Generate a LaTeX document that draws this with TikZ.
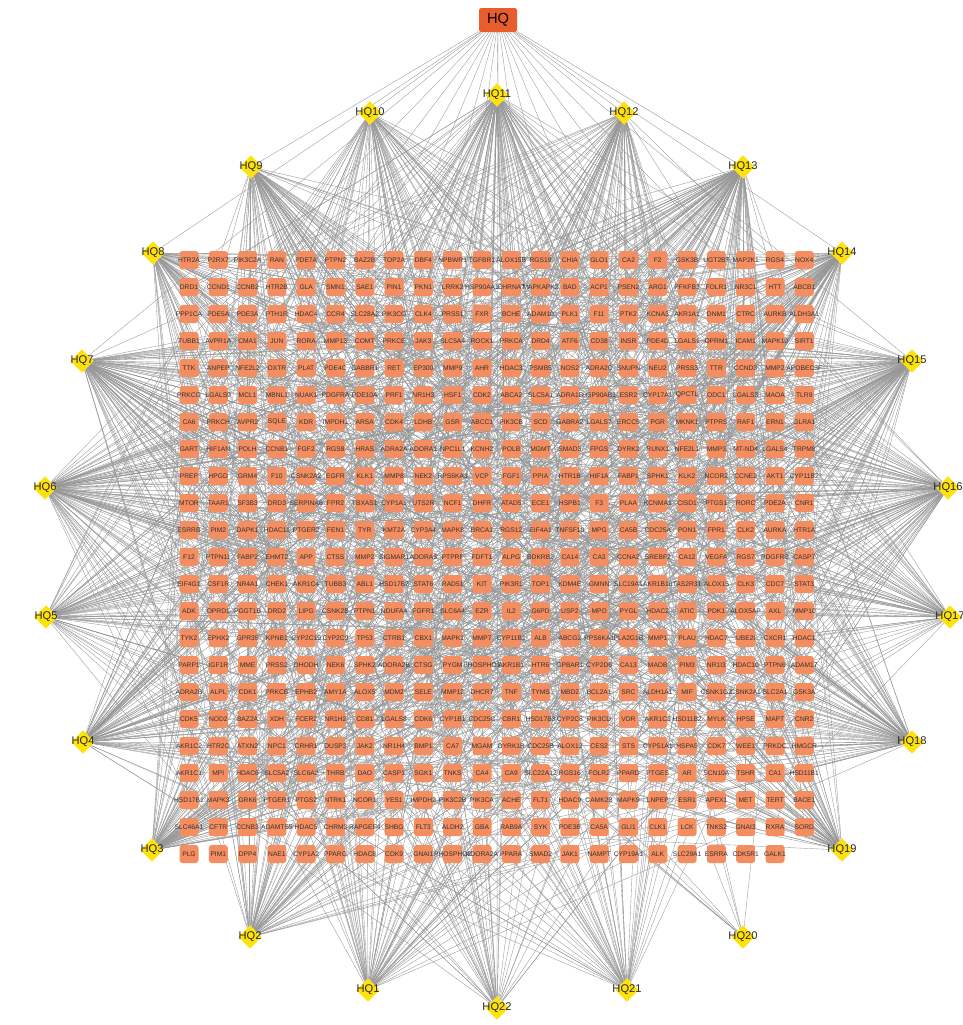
\documentclass[tikz,border=0pt]{standalone}
\usepackage{fontspec}
\setmainfont{Liberation Sans}
\usetikzlibrary{shapes.geometric, backgrounds}

\definecolor{tgtfill}{RGB}{244,141,96}
\definecolor{hqyellow}{RGB}{255,226,10}
\definecolor{rootfill}{RGB}{233,92,44}
\definecolor{linkgray}{RGB}{150,150,150}

\tikzset{
  tgt/.style={rectangle, rounded corners=2.5pt, fill=tgtfill, minimum width=0.57cm, minimum height=0.54cm, inner sep=0pt},
  tgtlbl/.style={font=\fontsize{5.7}{6}\selectfont, text=black!80, inner sep=0pt},
  hqnode/.style={diamond, fill=hqyellow, minimum width=0.7cm, minimum height=0.7cm, inner sep=0pt},
  hqlbl/.style={font=\fontsize{9.5}{10}\selectfont, text=black!85, inner sep=0pt},
  rootnode/.style={rectangle, rounded corners=2pt, fill=rootfill, minimum width=1.14cm, minimum height=0.72cm, inner sep=0pt, font=\fontsize{12.5}{13}\selectfont},
  hqlink/.style={draw=linkgray, line width=0.3pt}
}

\begin{document}
\begin{tikzpicture}[x=0.03cm, y=-0.03cm]
\useasboundingbox (0,0) rectangle (963,1025);

% compound
\node[rootnode] (hq) at (498,20) {HQ};

% ingredients
\foreach \k/\x/\y in {1/368/990, 2/250/937, 3/152/850, 4/83/742, 5/46/617, 6/45/488,
  7/82/361, 8/153/253, 9/251/167, 10/370/113, 11/497/95, 12/624/113, 13/743/167,
  14/842/253, 15/912/361, 16/948/488, 17/950/617, 18/912/742, 19/842/850,
  20/743/937, 21/627/990, 22/497/1008} {
  \node[hqnode, label={[hqlbl]center:HQ\k}] (hq\k) at (\x,\y) {};
}

% targets
\foreach \row [count=\r from 0] in {
  {HTR2A,P2RX7,PIK3C2A,RAN,PDE7A,PTPN2,BAZ2B,TOP2A,DBF4,NPBWR1,TGFBR1,ALOX15B,RGS19,CHIA,GLO1,CA2,F2,GSK3B,UGT2B7,MAP2K1,RGS4,NOX4},
  {DRD1,CCND1,CCNB2,HTR2B,GLA,SMN1,SAE1,PIN1,PKN1,LRRK2,HSP90AA1,CHRNA7,MAPKAPK2,BAD,ACP1,PSEN2,ARG1,PFKFB3,FOLR1,NR3C1,HTT,ABCB1},
  {PPP1CA,PDE5A,PDE3A,PTH1R,HDAC4,CCR4,SLC28A2,PIK3CG,CLK4,PRSS1,FXR,BCHE,ADAM10,PLK1,F11,PTK2,KCNA3,AKR1A1,DNM1,CTRC,AURKB,ALDH3A1},
  {TUBB1,AVPR1A,CMA1,JUN,RORA,MMP13,COMT,PRKCE,JAK3,SLC5A4,ROCK1,PRKCA,DRD4,ATF6,CD38,INSR,PDE4D,LGALS1,OPRM1,ICAM1,MAPK10,SIRT1},
  {TTK,ANPEP,NFE2L2,OXTR,PLAT,PDE4C,GABBR1,RET,EP300,MMP9,AHR,HDAC3,PSMB5,NOS2,ADRA2C,SNUPN,NEU2,PRSS3,TTR,CCND3,MMP2,APOBEC3F},
  {PRKCG,LGALS9,MCL1,MBNL1,NUAK1,PDGFRA,PDE10A,PRF1,NR1H3,HSF1,CDK2,ABCA2,SLC5A1,ADRA1B,HSP90AB1,ESR2,CYP17A1,QPCTL,ODC1,LGALS3,MAOA,TLR9},
  {CA6,PRKCH,AVPR2,SQLE,KDR,IMPDH1,ARSA,CDK4,LDHB,GSR,ABCC1,PIK3CB,SCD,GABRA2,LGALS7,ERCC5,PGR,MKNK1,PTPRS,RAF1,ERN1,GLRA1},
  {GART,HIF1AN,POLH,CCNB1,FGF2,RGS8,HRAS,ADRA2A,ADORA1,NPC1L1,KCNH2,POLB,MGMT,SMAD3,FPGS,DYRK2,RUNX1,NFE2L1,MMP3,MT-ND4,LGALS4,TRPM8},
  {PREP,HPGD,GRM4,F10,CSNK2A2,EGFR,KLK1,MMP8,NEK2,RPS6KA3,VCP,FGF1,PPIA,HTR1B,HIF1A,FABP1,SPHK1,KLK2,NCOR2,CCNE2,AKT1,CYP11B2},
  {MTOR,TAAR1,SF3B3,DRD3,SERPINA6,FPR2,TBXAS1,CYP1A1,UTS2R,NCF1,DHFR,ATAD5,ECE1,HSPB1,F3,PLAA,KCNMA1,CISD1,PTGS1,RORC,PDE2A,CNR1},
  {ESRRB,PIM2,DAPK1,HDAC11,PTGER2,FEN1,TYR,KMT2A,CYP3A4,MAPK8,BRCA1,RGS12,EIF4A1,TNFSF10,MPG,CA5B,CDC25A,PON1,FPR1,CLK2,AURKA,HTR1A},
  {F12,PTPN11,FABP2,EHMT2,APP,CTSS,MMP2,SIGMAR1,ADORA3,PTPRF,FDFT1,ALPG,BDKRB2,CA14,CA3,CCNA2,SREBF2,CA12,VEGFA,RGS7,PDGFRB,CASP7},
  {EIF4G1,CSF1R,NR4A1,CHEK1,AKR1C4,TUBB3,ABL1,HSD17B2,STAT6,RAD51,KIT,PIK3R1,TOP1,KDM4E,GMNN,SLC19A1,AKR1B10,TAS2R31,ALOX15,CLK3,CDC7,STAT3},
  {ADK,OPRD1,PGGT1B,DRD2,LIPG,CSNK2B,PTPN1,NDUFA4,FGFR1,SLC6A4,EZR,IL2,G6PD,USP2,MPO,PYGL,HDAC2,ATIC,PDK1,ALOX5AP,AXL,MMP10},
  {TYK2,EPHX2,GPR35,KPNB1,CYP2C19,CYP2C9,TP53,CTRB1,CBX1,MAPK1,MMP7,CYP11B1,ALB,ABCG2,RPS6KA1,PLA2G1B,MMP1,PLAU,HDAC7,UBE2I,CXCR1,HDAC1},
  {PARP1,IGF1R,MME,PRSS2,DHODH,NEK6,SPHK2,ADORA2B,CTSG,PYGM,PHOSPHO1,AKR1B1,HTR6,GPBAR1,CYP2D6,CA13,MAOB,PIM3,NR1I3,HDAC10,PTPN6,ADAM17},
  {ADRA2B,ALPL,CDK1,PRKCB,EPHB2,AMY1A,ALOX5,MDM2,SELE,MMP12,DHCR7,TNF,TYMS,MBD2,BCL2A1,SRC,ALDH1A1,MIF,CSNK1G2,CSNK2A1,SLC2A1,GSK3A},
  {CDK5,NOD2,BAZ2A,XDH,FCER2,NR1H2,CD81,LGALS8,CDK6,CYP1B1,CDC25C,CBR1,HSD17B3,CYP2C8,PIK3CD,VDR,AKR1C3,HSD11B2,MYLK,HPSE,MAPT,CNR2},
  {AKR1C2,HTR2C,ATXN2,NPC1,CRHR1,DUSP3,JAK2,NR1H4,BMP1,CA7,MGAM,DYRK1B,CDC25B,ALOX12,CES2,STS,CYP51A1,HSPA5,CDK7,WEE1,PRKDC,HMGCR},
  {AKR1C1,MPI,HDAC6,SLC5A2,SLC6A2,THRB,DAO,CASP1,SGK1,TNKS,CA4,CA9,SLC22A12,RGS16,FOLR2,PPARD,PTGES,AR,SCN10A,TSHR,CA1,HSD11B1},
  {HSD17B1,MAPK3,GRK6,PTGER1,PTGS2,NTRK1,NCOR1,YES1,IMPDH2,PIK3C2B,PIK3CA,ACHE,FLT1,HDAC9,CAMK2B,MAPK9,LNPEP,ESR1,APEX1,MET,TERT,BACE1},
  {SLC46A1,CFTR,CCNB3,ADAMTS5,HDAC5,CHRM3,RAPGEF4,SHBG,FLT3,ALDH2,GBA,RAB9A,SYK,PDE3B,CA5A,GLI1,CLK1,LCK,TNKS2,GNAI3,RXRA,SORD},
  {PLG,PIM1,DPP4,NAE1,CYP1A2,PPARG,HDAC8,CDK9,GNAI1,PHOSPHO2,ADORA2A,PPARA,SMAD2,JAK1,NAMPT,CYP19A1,ALK,SLC29A1,ESRRA,CDK5R1,GALK1}} {
  \foreach \g [count=\c from 0] in \row {
    \node[tgt, label={[tgtlbl]center:\g}] (t\r-\c) at (189+29.3*\c, 260+27*\r) {};
  }
}

% links
\begin{pgfonlayer}{background}
\foreach \k in {1,...,22} {
  \draw[hqlink] (hq) -- (hq\k);
}
\pgfmathsetseed{20}
\foreach \k/\n in {1/60, 2/70, 3/80, 4/90, 5/70, 6/110, 7/100, 8/70, 9/80, 10/70, 11/110,
  12/80, 13/110, 14/100, 15/110, 16/100, 17/60, 18/90, 19/60, 20/8, 21/50, 22/40} {
  \foreach \e in {1,...,\n} {
    \pgfmathtruncatemacro\rr{random(0,21)}
    \pgfmathtruncatemacro\cc{random(0,21)}
    \draw[hqlink] (hq\k) -- (t\rr-\cc);
  }
}
\end{pgfonlayer}
\end{tikzpicture}
\end{document}
